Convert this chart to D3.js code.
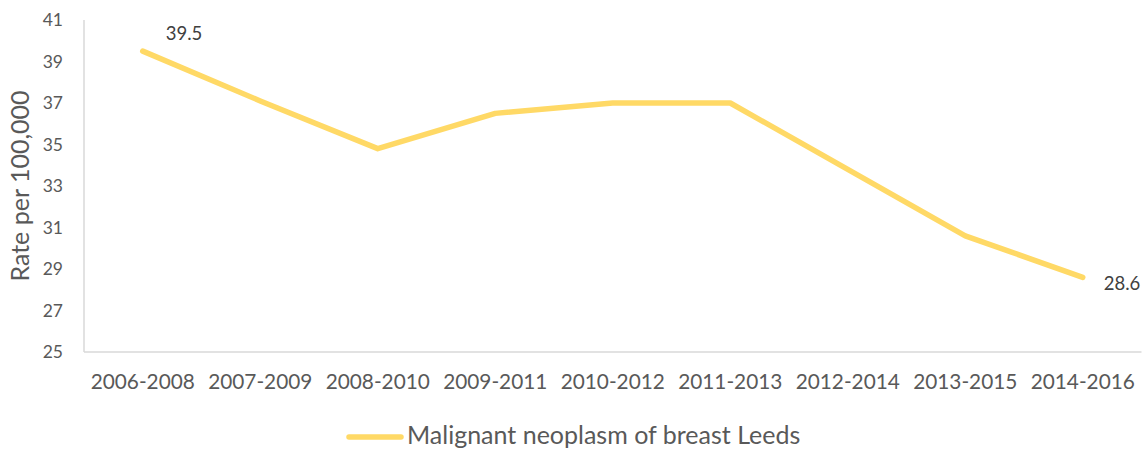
<!DOCTYPE html>
<html><head><meta charset="utf-8">
<script src="https://cdn.jsdelivr.net/npm/d3@7"></script>
<style>body{margin:0;background:#fff}text{font-family:Lato,"Open Sans",sans-serif}</style>
</head><body><svg id="c" width="1147" height="450"></svg>
<script>
const categories = ["2006-2008","2007-2009","2008-2010","2009-2011","2010-2012","2011-2013","2012-2014","2013-2015","2014-2016"];
const values = [39.5,37.1,34.8,36.5,37.0,37.0,33.8,30.6,28.6];
const yTicks = [25,27,29,31,33,35,37,39,41];
const seriesName = "Malignant neoplasm of breast Leeds";

const svg = d3.select("#c");
const mLeft = 84, mRight = 1141.5, mTop = 20, mBottom = 352;
const x = d3.scaleBand().domain(categories).range([mLeft, mRight]);
const y = d3.scaleLinear().domain([25,41]).range([mBottom, mTop]);

svg.append("line").attr("x1",mLeft).attr("x2",mLeft).attr("y1",mTop).attr("y2",mBottom).attr("stroke","#d9d9d9").attr("stroke-width",1.5);
svg.append("line").attr("x1",mLeft).attr("x2",mRight).attr("y1",mBottom).attr("y2",mBottom).attr("stroke","#d9d9d9").attr("stroke-width",1.5);

const yAxis = d3.axisLeft(y).tickValues(yTicks).tickSize(0).tickPadding(21);
svg.append("g").attr("transform",`translate(${mLeft},0)`).call(yAxis)
  .call(g=>g.select(".domain").remove())
  .selectAll("text").attr("fill","#595959").style("font-size","17.5px").style("font-family","Lato");

const xAxis = d3.axisBottom(x).tickSize(0).tickPadding(22);
svg.append("g").attr("transform",`translate(0,${mBottom})`).call(xAxis)
  .call(g=>g.select(".domain").remove())
  .selectAll("text").attr("fill","#595959").style("font-size","20.8px").style("font-family","Lato");

svg.append("text").attr("transform",`translate(29,${(mTop+mBottom)/2}) rotate(-90)`)
  .attr("text-anchor","middle").attr("fill","#595959").style("font-size","25px").text("Rate per 100,000");

const line = d3.line().x((d,i)=>x(categories[i])+x.bandwidth()/2).y(d=>y(d));
svg.append("path").datum(values).attr("d",line).attr("fill","none")
  .attr("stroke","#FFD966").attr("stroke-width",5.5).attr("stroke-linecap","round").attr("stroke-linejoin","round");

const n = values.length;
svg.append("text").attr("x",x(categories[0])+x.bandwidth()/2+23).attr("y",y(values[0])-11)
  .attr("fill","#404040").style("font-size","18.5px").text(values[0].toFixed(1));
svg.append("text").attr("x",x(categories[n-1])+x.bandwidth()/2+21).attr("y",y(values[n-1])+13)
  .attr("fill","#404040").style("font-size","18.5px").text(values[n-1].toFixed(1));

svg.append("line").attr("x1",349).attr("x2",401).attr("y1",437).attr("y2",437)
  .attr("stroke","#FFD966").attr("stroke-width",5.5).attr("stroke-linecap","round");
svg.append("text").attr("x",407).attr("y",444).attr("fill","#595959").style("font-size","25px").text(seriesName);
</script></body></html>
